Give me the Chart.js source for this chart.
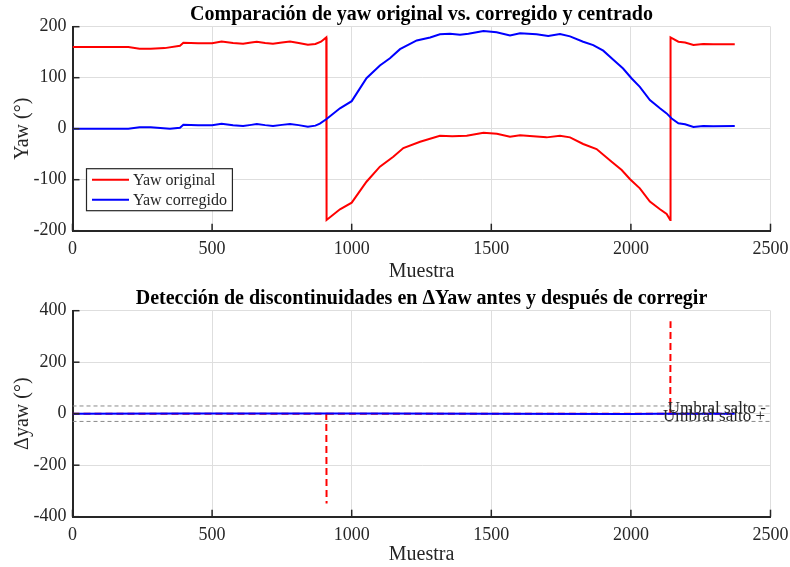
<!DOCTYPE html>
<html>
<head>
<meta charset="utf-8">
<script src="https://cdn.jsdelivr.net/npm/chart.js@4.4.1/dist/chart.umd.min.js"></script>
<style>
  html, body { margin: 0; padding: 0; background: #ffffff; }
  #wrap { position: relative; width: 790px; height: 567px; overflow: hidden; }
  canvas { position: absolute; left: 0; }
</style>
</head>
<body>
<div id="wrap">
  <canvas id="yawChart" width="790" height="284" style="top:0;width:790px;height:284px"></canvas>
  <canvas id="deltaChart" width="790" height="283" style="top:284px;width:790px;height:283px"></canvas>
</div>
<script>
// ---- Yaw signals (degrees) vs sample index ----
const sampleOriginal = [0, 200, 240, 280, 330, 385, 397, 450, 500, 534, 575, 611, 640, 660, 690, 718, 750, 779, 810, 843, 870, 890, 909, 910, 958, 1000, 1053, 1101, 1149, 1185, 1245, 1316, 1360, 1412, 1472, 1520, 1567, 1603, 1650, 1698, 1746, 1782, 1829, 1877, 1931, 1967, 1997, 2032, 2068, 2104, 2128, 2141, 2142, 2170, 2194, 2224, 2259, 2295, 2372];
const yawOriginal = [160, 160, 157, 157, 158, 162.7, 168.6, 167.5, 167.5, 171, 168, 166.7, 169, 170.6, 168, 166.7, 169, 171, 168, 164.7, 166, 170.6, 179, -179, -158, -145, -104, -74.5, -55, -38, -25.5, -13.7, -15, -13.7, -7.8, -10, -15.7, -13, -15, -17, -13.7, -17, -30, -40, -65, -81, -99, -117, -143, -158, -167, -179, 179, 170.6, 169, 164, 166, 165.5, 165.5];

const sampleCorrected = [0, 200, 240, 280, 349, 385, 397, 450, 500, 534, 575, 611, 640, 660, 690, 718, 750, 779, 810, 843, 870, 886, 910, 958, 1000, 1053, 1101, 1137, 1173, 1233, 1281, 1316, 1352, 1388, 1418, 1472, 1519, 1567, 1603, 1662, 1704, 1746, 1782, 1829, 1865, 1901, 1937, 1972, 2002, 2032, 2068, 2104, 2128, 2146, 2170, 2194, 2224, 2259, 2295, 2372];
const yawCorrected = [0, 0, 2.7, 3, 0, 2, 7.8, 7, 7, 9.8, 7, 5.5, 7.5, 9, 7, 5.5, 7.5, 9, 7, 4, 6, 10, 19, 40, 54, 99, 124, 138, 156, 173, 179, 185, 186, 184, 186, 191.5, 189, 183, 187, 185, 182, 185.7, 181, 170.6, 164, 153, 135, 118, 99, 82, 56, 40, 30, 20, 10.6, 8.6, 3.3, 5.3, 4.7, 5.3];

// ---- Sample-to-sample yaw differences (degrees) ----
const sampleDeltaOriginal = [0, 909, 910, 911, 2141, 2142, 2143, 2372];
const deltaOriginal = [0, 0, -349, 0, 0, 359, 0, 0];
const sampleDeltaCorrected = [0, 400, 900, 1000, 1100, 1500, 2000, 2100, 2372];
const deltaCorrected = [0, 0.4, 0.5, 1, 0.7, 0, -0.8, -0.6, 0];

// Jump detection threshold lines and their labels
const thresholdValues = [30, -30];
const thresholdLabels = ['Umbral salto -', 'Umbral salto +'];
const thresholdSpan = [0, 2500];

// Axis ticks
const sampleTicks = [0, 500, 1000, 1500, 2000, 2500];
const yawTicks = [-200, -100, 0, 100, 200];
const deltaTicks = [-400, -200, 0, 200, 400];

const SERIF = "'Liberation Serif', 'Times New Roman', serif";
const INK = '#262626';
const GRID = '#dedede';

const toPoints = (xs, ys) => xs.map((x, i) => ({ x: x, y: ys[i] }));

// Short tick marks pointing into the plot area
const inwardTicks = {
  id: 'inwardTicks',
  afterDatasetsDraw(chart) {
    const { ctx, chartArea, scales } = chart;
    const len = 7;
    ctx.save();
    ctx.strokeStyle = INK;
    ctx.lineWidth = 1.5;
    scales.x.ticks.forEach(t => {
      const px = scales.x.getPixelForValue(t.value);
      ctx.beginPath();
      ctx.moveTo(px, chartArea.bottom);
      ctx.lineTo(px, chartArea.bottom - len);
      ctx.stroke();
    });
    scales.y.ticks.forEach(t => {
      const py = scales.y.getPixelForValue(t.value);
      ctx.beginPath();
      ctx.moveTo(chartArea.left, py);
      ctx.lineTo(chartArea.left + len, py);
      ctx.stroke();
    });
    ctx.restore();
  }
};

// Boxed legend in the lower-left corner of the plot area
const boxLegend = {
  id: 'boxLegend',
  afterDraw(chart, args, opts) {
    if (!opts || !opts.show) return;
    const { ctx, chartArea } = chart;
    const items = chart.data.datasets.filter(d => d.label);
    ctx.save();
    ctx.font = opts.font;
    const textW = Math.max(...items.map(d => ctx.measureText(d.label).width));
    const rowH = 20, padTop = 11, sampleLen = 37;
    const w = 46 + textW + 6;
    const h = rowH * (items.length - 1) + padTop * 2;
    const x0 = chartArea.left + 14;
    const y0 = chartArea.bottom - 20 - h;
    ctx.fillStyle = '#ffffff';
    ctx.fillRect(x0, y0, w, h);
    ctx.strokeStyle = INK;
    ctx.lineWidth = 1.2;
    ctx.strokeRect(x0, y0, w, h);
    items.forEach((d, i) => {
      const y = y0 + padTop + i * rowH;
      ctx.strokeStyle = d.borderColor;
      ctx.lineWidth = 2;
      ctx.beginPath();
      ctx.moveTo(x0 + 5.5, y);
      ctx.lineTo(x0 + 5.5 + sampleLen, y);
      ctx.stroke();
      ctx.fillStyle = INK;
      ctx.textBaseline = 'middle';
      ctx.textAlign = 'left';
      ctx.fillText(d.label, x0 + 46.5, y + 1);
    });
    ctx.restore();
  }
};

// Text labels next to the threshold lines: below the upper line, above the lower one
const thresholdText = {
  id: 'thresholdText',
  afterDatasetsDraw(chart, args, opts) {
    if (!opts || !opts.show) return;
    const { ctx, chartArea, scales } = chart;
    ctx.save();
    ctx.font = opts.font;
    ctx.fillStyle = INK;
    ctx.textAlign = 'right';
    ctx.textBaseline = 'alphabetic';
    thresholdValues.forEach((v, i) => {
      const py = scales.y.getPixelForValue(v);
      if (v > 0) {
        ctx.fillText(thresholdLabels[i], chartArea.right - 4.5, py + 7.5);
      } else {
        ctx.fillText(thresholdLabels[i], chartArea.right - 5.5, py - 0.3);
      }
    });
    ctx.restore();
  }
};

// The return stroke of a one-sample spike retraces the same pixels; leaving it
// unstroked keeps the dash pattern of the spike readable.
const hideSpikeReturn = ctx =>
  Math.abs(ctx.p0.parsed.y) > Math.abs(ctx.p1.parsed.y) + 100 ? 'rgba(0,0,0,0)' : undefined;

function axisOptions(ticks, title, isX, plotEdge) {
  return {
    type: 'linear',
    min: ticks[0],
    max: ticks[ticks.length - 1],
    afterBuildTicks: scale => { scale.ticks = ticks.map(v => ({ value: v })); },
    afterFit: scale => {
      if (isX) {
        scale.height = plotEdge;
        scale.paddingLeft = 0;
        scale.paddingRight = 0;
      } else {
        scale.width = plotEdge;
        scale.paddingTop = 0;
        scale.paddingBottom = 0;
      }
    },
    grid: { color: GRID, lineWidth: 1, drawTicks: false },
    border: { color: INK, width: 2 },
    ticks: {
      color: INK,
      font: { family: SERIF, size: 18 },
      padding: isX ? 8 : 6,
      callback: v => String(v)
    },
    title: {
      display: true,
      text: title,
      color: INK,
      font: { family: SERIF, size: 20 },
      padding: isX ? { top: 0, bottom: 0 } : { top: 11, bottom: 0 }
    }
  };
}

function baseOptions(titleText, xTitle, yTicks, yTitle, xHeight, extraPlugins) {
  return {
    responsive: false,
    devicePixelRatio: 1,
    animation: false,
    events: [],
    layout: { padding: { left: 0, right: 19.5, top: 0, bottom: 0 } },
    scales: {
      x: axisOptions(sampleTicks, xTitle, true, xHeight),
      y: axisOptions(yTicks, yTitle, false, 72.5)
    },
    plugins: Object.assign({
      legend: { display: false },
      tooltip: { enabled: false },
      title: {
        display: true,
        fullSize: false,
        text: titleText,
        color: '#000000',
        font: { family: SERIF, size: 20, weight: 'bold', lineHeight: 1 },
        padding: { top: 5, bottom: 1.7 }
      }
    }, extraPlugins)
  };
}

new Chart(document.getElementById('yawChart'), {
  type: 'line',
  data: {
    datasets: [
      {
        label: 'Yaw original',
        data: toPoints(sampleOriginal, yawOriginal),
        borderColor: '#ff0000',
        borderWidth: 2,
        pointRadius: 0,
        tension: 0,
        order: 2
      },
      {
        label: 'Yaw corregido',
        data: toPoints(sampleCorrected, yawCorrected),
        borderColor: '#0000ff',
        borderWidth: 2,
        pointRadius: 0,
        tension: 0,
        order: 1
      }
    ]
  },
  options: baseOptions('Comparación de yaw original vs. corregido y centrado', 'Muestra', yawTicks, 'Yaw (°)', 53.3,
    { boxLegend: { show: true, font: '16px ' + SERIF } }),
  plugins: [inwardTicks, boxLegend]
});

new Chart(document.getElementById('deltaChart'), {
  type: 'line',
  data: {
    datasets: [
      {
        data: toPoints(sampleDeltaOriginal, deltaOriginal),
        borderColor: '#ff0000',
        borderWidth: 2,
        borderDash: [7, 4],
        pointRadius: 0,
        tension: 0,
        segment: { borderColor: hideSpikeReturn },
        order: 3
      },
      {
        data: toPoints(sampleDeltaCorrected, deltaCorrected),
        borderColor: '#0000ff',
        borderWidth: 2,
        pointRadius: 0,
        tension: 0,
        order: 2
      },
      ...thresholdValues.map(v => ({
        data: toPoints(thresholdSpan, thresholdSpan.map(() => v)),
        borderColor: '#8a8a8a',
        borderWidth: 1,
        borderDash: [4, 3],
        pointRadius: 0,
        tension: 0,
        order: 1
      }))
    ]
  },
  options: baseOptions('Detección de discontinuidades en ΔYaw antes y después de corregir', 'Muestra', deltaTicks, 'Δyaw (°)', 50.3,
    { thresholdText: { show: true, font: '17px ' + SERIF } }),
  plugins: [inwardTicks, thresholdText]
});
</script>
</body>
</html>
